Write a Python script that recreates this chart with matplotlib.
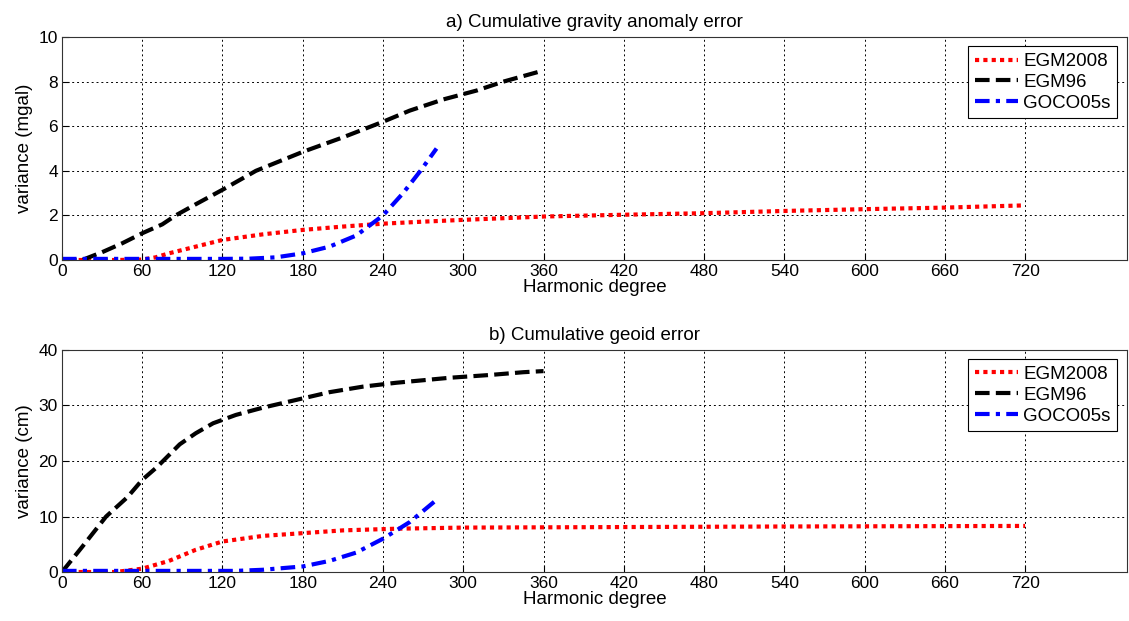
import numpy as np
import matplotlib.pyplot as plt

plt.rcParams['font.family'] = ['Liberation Sans', 'DejaVu Sans']

# a) cumulative gravity anomaly error (mgal)
deg_08a = [0, 40, 60, 70, 80, 100, 120, 150, 180, 210, 240, 270, 300, 360, 420, 480, 540, 600, 660, 720]
val_08a = [0, 0, 0.02, 0.12, 0.3, 0.6, 0.9, 1.15, 1.35, 1.5, 1.63, 1.72, 1.8, 1.95, 2.03, 2.1, 2.2, 2.28, 2.35, 2.45]
deg_96a = [0, 15, 30, 45, 60, 75, 85, 100, 120, 145, 180, 210, 240, 260, 285, 310, 330, 360]
val_96a = [0, 0, 0.35, 0.75, 1.2, 1.6, 2.0, 2.5, 3.15, 4.0, 4.85, 5.5, 6.2, 6.7, 7.2, 7.6, 8.0, 8.5]
deg_gca = [0, 60, 120, 140, 160, 180, 200, 220, 240, 255, 268, 280]
val_gca = [0.05, 0.05, 0.05, 0.06, 0.12, 0.3, 0.6, 1.1, 2.0, 3.0, 4.0, 5.0]

# b) cumulative geoid error (cm)
deg_08b = [0, 40, 60, 80, 100, 120, 150, 180, 210, 250, 300, 360, 420, 540, 720]
val_08b = [0, 0, 0.6, 2.0, 4.0, 5.5, 6.5, 7.0, 7.5, 7.8, 8.0, 8.05, 8.1, 8.2, 8.3]
deg_96b = [0, 15, 33, 49, 60, 71, 88, 100, 113, 130, 150, 175, 200, 225, 250, 290, 320, 345, 360]
val_96b = [0, 4.5, 10, 13.5, 16.6, 18.9, 23, 25, 26.8, 28.3, 29.6, 31, 32.4, 33.4, 34.1, 35, 35.5, 36, 36.2]
deg_gcb = [0, 60, 130, 150, 180, 200, 220, 240, 260, 280]
val_gcb = [0.2, 0.2, 0.2, 0.4, 1.0, 2.0, 3.5, 6.0, 9.0, 13.0]

names = ['EGM2008', 'EGM96', 'GOCO05s']
xticks = np.arange(0, 721, 60)

fig = plt.figure(figsize=(11.29, 6.21), dpi=100)
ax1 = fig.add_axes([0.0549, 0.5813, 0.9431, 0.3591])
ax2 = fig.add_axes([0.0549, 0.0789, 0.9431, 0.3575])

panels = [
    (ax1, deg_08a, val_08a, deg_96a, val_96a, deg_gca, val_gca,
     'a) Cumulative gravity anomaly error', 'variance (mgal)', np.arange(0, 11, 2), 10),
    (ax2, deg_08b, val_08b, deg_96b, val_96b, deg_gcb, val_gcb,
     'b) Cumulative geoid error', 'variance (cm)', np.arange(0, 41, 10), 40),
]

for ax, d1, v1, d2, v2, d3, v3, title, ylab, yt, ymax in panels:
    ax.plot(d1, v1, color='red', linestyle=(0, (1, 1)), linewidth=3, label=names[0])
    ax.plot(d2, v2, color='black', linestyle=(0, (3.5, 1.5)), linewidth=3, label=names[1])
    ax.plot(d3, v3, color='blue', linestyle=(0, (3.5, 1.5, 1, 1.5)), linewidth=3, label=names[2])
    ax.set_xlim(0, 796)
    ax.set_ylim(0, ymax)
    ax.set_xticks(xticks)
    ax.set_yticks(yt)
    ax.grid(True, color='black', linestyle=(0, (2, 3)), linewidth=0.7)
    ax.tick_params(direction='in', labelsize=12.5, length=5, pad=3)
    ax.set_title(title, fontsize=13.5, pad=7)
    ax.set_xlabel('Harmonic degree', fontsize=13.5, labelpad=0)
    ax.set_ylabel(ylab, fontsize=13.5, labelpad=4)
    for s in ax.spines.values():
        s.set_color('#333333')
    leg = ax.legend(loc='upper right', fontsize=13.5, fancybox=False, framealpha=1,
                    edgecolor='black', handlelength=2.3, borderaxespad=0.5,
                    labelspacing=0.2, handletextpad=0.3, borderpad=0.35)
    leg.get_frame().set_linewidth(0.8)

fig.savefig('out.png', dpi=100)
